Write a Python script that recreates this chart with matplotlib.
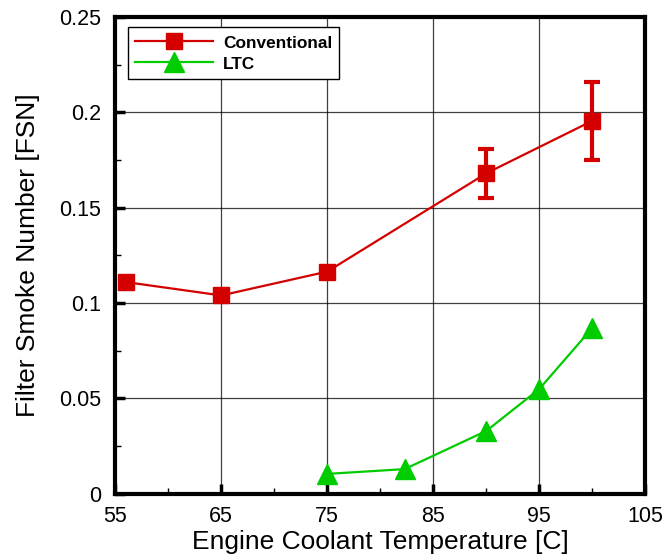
import matplotlib
matplotlib.use("Agg")
import matplotlib.pyplot as plt
from matplotlib.ticker import MultipleLocator

# ---------- data ----------
conv_temp = [56, 65, 75, 90, 100]
conv_fsn = [0.111, 0.104, 0.1165, 0.168, 0.1955]
conv_err = [0.0, 0.0, 0.0, 0.0127, 0.0205]

ltc_temp = [75, 82.3, 90, 95, 100]
ltc_fsn = [0.0105, 0.013, 0.033, 0.055, 0.087]

x_ticks = [55, 65, 75, 85, 95, 105]
y_ticks = [0, 0.05, 0.1, 0.15, 0.2, 0.25]
y_tick_labels = ["0", "0.05", "0.1", "0.15", "0.2", "0.25"]
# -------------------------------------------------

plt.rcParams['font.family'] = ['Liberation Sans', 'DejaVu Sans']

red = "#d40000"
green = "#00cc00"

fig = plt.figure(figsize=(6.66, 5.6), dpi=100)
ax = fig.add_axes([0.173, 0.118, 0.796, 0.852])

# error bars only where there is a spread
err_idx = [i for i, e in enumerate(conv_err) if e > 0]
ax.errorbar([conv_temp[i] for i in err_idx], [conv_fsn[i] for i in err_idx],
            yerr=[conv_err[i] for i in err_idx], fmt="none", ecolor=red,
            elinewidth=3, capsize=6, capthick=3, zorder=3)
ax.plot(conv_temp, conv_fsn, color=red, lw=1.6, marker="s", markersize=11,
        label="Conventional", zorder=4)
ax.plot(ltc_temp, ltc_fsn, color=green, lw=1.6, marker="^", markersize=15,
        label="LTC", zorder=4)

ax.set_xlim(55, 105)
ax.set_ylim(0, 0.25)
ax.set_xticks(x_ticks)
ax.set_yticks(y_ticks)
ax.set_yticklabels(y_tick_labels)
ax.xaxis.set_minor_locator(MultipleLocator(5))
ax.yaxis.set_minor_locator(MultipleLocator(0.025))
ax.tick_params(which="major", direction="in", length=7, width=2.5,
               labelsize=15.5, top=False, right=False)
ax.tick_params(axis="y", which="major", pad=10)
ax.tick_params(axis="x", which="major", pad=9)
ax.tick_params(which="minor", direction="in", length=4, width=1,
               top=False, right=False)
ax.grid(True, which="major", color="black", lw=0.9, alpha=0.75)
for sp in ax.spines.values():
    sp.set_linewidth(3)

ax.set_xlabel("Engine Coolant Temperature [C]", fontsize=19, labelpad=2)
ax.set_ylabel("Filter Smoke Number [FSN]", fontsize=19, labelpad=14)

leg = ax.legend(loc="upper left", bbox_to_anchor=(0.025, 0.978),
                borderaxespad=0, frameon=True, fancybox=False,
                edgecolor="black", framealpha=1, handlelength=4.5,
                handleheight=1.1, handletextpad=0.6, borderpad=0.4,
                labelspacing=0.2, prop={"weight": "bold", "size": 12.4})
leg.get_frame().set_linewidth(1)

fig.savefig("out.png", dpi=100)
